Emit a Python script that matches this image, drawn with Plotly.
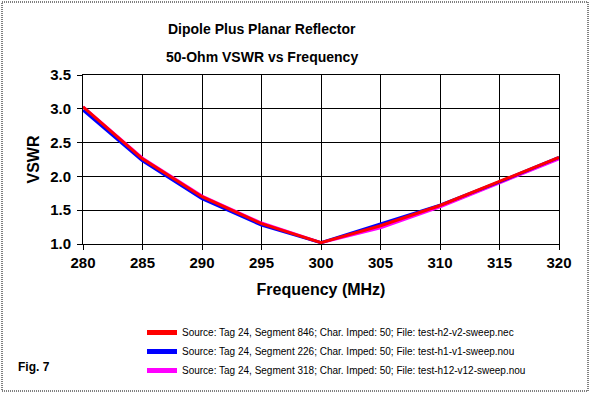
import plotly.graph_objects as go

freq = [280, 285, 290, 295, 300, 305, 310, 315, 320]
vswr_red = [3.03, 2.26, 1.70, 1.30, 1.02, 1.27, 1.57, 1.92, 2.28]
vswr_blue = [2.98, 2.23, 1.67, 1.28, 1.02, 1.30, 1.575, 1.92, 2.28]
vswr_magenta = [3.03, 2.27, 1.71, 1.31, 1.02, 1.24, 1.55, 1.90, 2.26]

names = [
    "Source: Tag 24, Segment 846; Char. Imped: 50; File: test-h2-v2-sweep.nec",
    "Source: Tag 24, Segment 226; Char. Imped: 50; File: test-h1-v1-sweep.nou",
    "Source: Tag 24, Segment 318; Char. Imped: 50; File: test-h12-v12-sweep.nou",
]
colors = ["#FF0000", "#0000FF", "#FF00FF"]
series = [vswr_red, vswr_blue, vswr_magenta]

FONT = "Liberation Sans, Arial, sans-serif"

fig = go.Figure()
# draw magenta first, red last (on top); legendrank keeps legend order red, blue, magenta
for i in [2, 1, 0]:
    fig.add_trace(go.Scatter(
        x=freq, y=series[i], mode="lines", name=names[i],
        line=dict(color=colors[i], width=3), legendrank=i + 1,
    ))

W, H = 592, 394
L, R, T, B = 83, 33, 75, 150
pw, ph = W - L - R, H - T - B

def px(x):
    return (x - L) / pw

def py(y):
    return (H - B - y) / ph

fig.update_layout(
    width=W, height=H,
    margin=dict(l=L, r=R, t=T, b=B, pad=0, autoexpand=False),
    paper_bgcolor="white", plot_bgcolor="white",
    font=dict(family=FONT, color="black"),
    showlegend=True,
    legend=dict(
        x=px(142), y=py(318), xanchor="left", yanchor="top",
        traceorder="normal", itemsizing="constant",
        font=dict(size=10, family=FONT, color="black"),
        bgcolor="rgba(0,0,0,0)", borderwidth=0,
    ),
    xaxis=dict(
        range=[280, 320], dtick=5, tick0=280,
        showgrid=True, gridcolor="black", gridwidth=1,
        showline=True, linecolor="black", linewidth=1, mirror=True,
        ticks="outside", ticklen=5, tickcolor="black",
        tickfont=dict(size=15, family=FONT, weight="bold"),
        title=dict(text="Frequency (MHz)", font=dict(size=16, family=FONT, weight="bold"), standoff=13),
        zeroline=False, automargin=False,
    ),
    yaxis=dict(
        range=[1.0, 3.5], dtick=0.5, tick0=1.0, tickformat=".1f",
        showgrid=True, gridcolor="black", gridwidth=1,
        showline=True, linecolor="black", linewidth=1, mirror=True,
        ticks="outside", ticklen=5, tickcolor="black", ticklabelstandoff=3,
        tickfont=dict(size=15, family=FONT, weight="bold"),
        title=dict(text="VSWR", font=dict(size=16, family=FONT, weight="bold"), standoff=6),
        zeroline=False, automargin=False,
    ),
    annotations=[
        dict(text="<b>Dipole Plus Planar Reflector</b>", x=px(262), y=py(29),
             xref="paper", yref="paper", showarrow=False, xanchor="center", yanchor="middle",
             font=dict(size=14, family=FONT)),
        dict(text="<b>50-Ohm VSWR vs Frequency</b>", x=px(262), y=py(57),
             xref="paper", yref="paper", showarrow=False, xanchor="center", yanchor="middle",
             font=dict(size=14, family=FONT)),
        dict(text="<b>Fig. 7</b>", x=px(16), y=py(367),
             xref="paper", yref="paper", showarrow=False, xanchor="left", yanchor="middle",
             font=dict(size=12, family=FONT)),
    ],
    shapes=[
        dict(type="rect", xref="paper", yref="paper",
             x0=px(2), x1=px(588), y0=py(391), y1=py(2),
             line=dict(color="black", width=1, dash="1px,1px"), fillcolor="rgba(0,0,0,0)",
             layer="below"),
    ],
)

fig.write_html("out.html", config={"displayModeBar": False},
               post_script="document.body.style.margin='0';")
